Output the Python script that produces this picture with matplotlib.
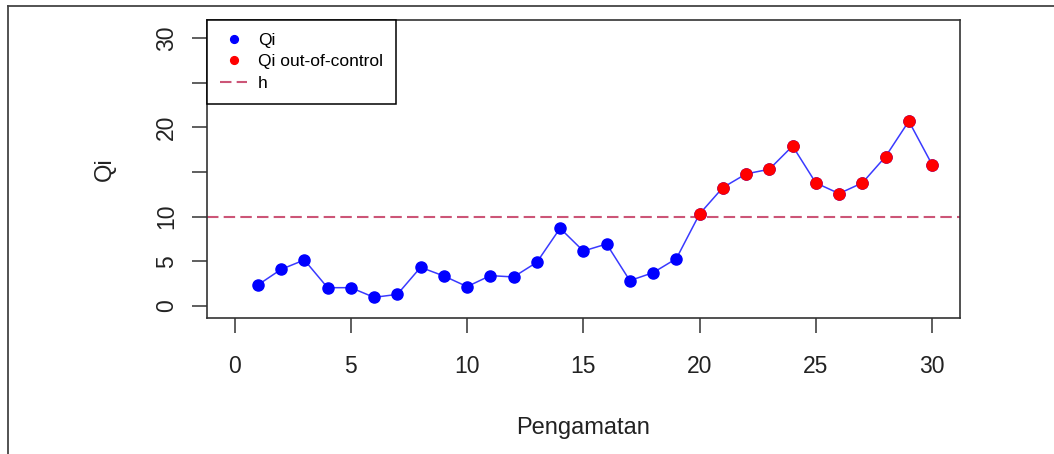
import matplotlib.pyplot as plt
import numpy as np
from matplotlib.lines import Line2D

# data
pengamatan = np.arange(1, 31)
qi = [2.35, 4.1, 5.15, 2.05, 2.05, 0.97, 1.3, 4.33, 3.36, 2.17,
      3.4, 3.25, 4.89, 8.7, 6.15, 6.94, 2.84, 3.73, 5.3, 10.3,
      13.25, 14.78, 15.3, 17.9, 13.77, 12.58, 13.77, 16.72, 20.68, 15.82]
h = 10
yticks = [0, 5, 10, 15, 20, 25, 30]
ytick_labels = ['0', '5', '10', '', '20', '', '30']
xticks = [0, 5, 10, 15, 20, 25, 30]

plt.rcParams['font.family'] = ['Liberation Sans', 'DejaVu Sans']

qi = np.array(qi)
out = qi > h

fig = plt.figure(figsize=(10.54, 4.54), dpi=100)
ax = fig.add_axes([0.1961, 0.2996, 0.7147, 0.6564])

ax.plot(pengamatan, qi, color='#3a3aff', lw=1.1, zorder=2)
ax.plot(pengamatan, qi, 'o', color='blue', ms=8, label='Qi', zorder=3)
ax.plot(pengamatan[out], qi[out], 'o', color='red', ms=8,
        label='Qi out-of-control', zorder=4)
hl = ax.axhline(h, color='#cc5577', lw=1.5, label='h', zorder=1)
hl.set_dashes((5.5, 2.5))

ax.set_xlim(-1.2, 31.2)
ax.set_ylim(-1.34, 32.0)
ax.set_xticks(xticks)
ax.set_yticks(yticks)
ax.set_yticklabels(ytick_labels, rotation=90, va='center')
ax.tick_params(axis='both', length=10.5, width=1.1, color='#333333',
               labelsize=16.5, labelcolor='#222222')
ax.tick_params(axis='y', pad=10)
ax.tick_params(axis='x', pad=16)
for s in ax.spines.values():
    s.set_color('#333333')
    s.set_linewidth(1.2)

ax.set_xlabel('Pengamatan', fontsize=17, color='#222222', labelpad=28)
ax.set_ylabel('Qi', fontsize=17, color='#222222', labelpad=28)

handles, labels = ax.get_legend_handles_labels()
leg = ax.legend(handles, labels, loc='upper left', bbox_to_anchor=(0, 1),
                borderaxespad=0, fancybox=False, framealpha=1,
                edgecolor='black', fontsize=12.5, markerscale=0.7,
                handlelength=1.6, handletextpad=0.6,
                borderpad=0.75, labelspacing=0.35)
leg.get_frame().set_linewidth(1.1)

# outer border of the picture (top and left edges)
fig.add_artist(Line2D([8 / 1054, 1], [1 - 6 / 454, 1 - 6 / 454],
                      transform=fig.transFigure, color='#444444', lw=1.3))
fig.add_artist(Line2D([8 / 1054, 8 / 1054], [0, 1 - 6 / 454],
                      transform=fig.transFigure, color='#444444', lw=1.3))

fig.savefig('out.png', dpi=100)
